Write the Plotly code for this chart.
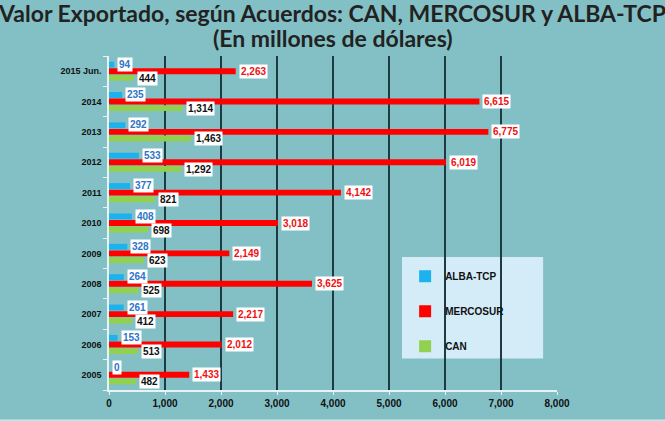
import plotly.graph_objects as go

# Valor exportado (millones de USD), de 2005 a 2015 Jun.
years = ["2005", "2006", "2007", "2008", "2009", "2010", "2011", "2012", "2013", "2014", "2015 Jun."]
alba = [0, 153, 261, 264, 328, 408, 377, 533, 292, 235, 94]
mercosur = [1433, 2012, 2217, 3625, 2149, 3018, 4142, 6019, 6775, 6615, 2263]
can = [482, 513, 412, 525, 623, 698, 821, 1292, 1463, 1314, 444]

x_ticks = [0, 1000, 2000, 3000, 4000, 5000, 6000, 7000, 8000]

BAR_FONT = dict(family="Liberation Sans, Arial", size=10, weight="bold")

fig = go.Figure()

# first trace ends up at the bottom of each group
series = [
    ("CAN", can, "#92d050", "#111111", -7, 3),
    ("MERCOSUR", mercosur, "#ff0000", "#ee1111", 0, 2),
    ("ALBA-TCP", alba, "#1cb2ee", "#2e74c8", 7, 1),
]

for name, vals, col, txtcol, shift, rank in series:
    fig.add_trace(go.Bar(
        y=years, x=vals, name=name, orientation="h",
        marker=dict(color=col, line=dict(width=0)),
        legendgroup=name, legendrank=rank,
    ))
    # labels: y given as category index, "2006" etc. would be read as numbers
    for i, v in enumerate(vals):
        fig.add_annotation(
            x=v, y=i, text=f"{v:,}", showarrow=False,
            xanchor="left", yanchor="middle", xshift=3, yshift=shift,
            bgcolor="white", borderpad=1,
            font=dict(BAR_FONT, color=txtcol),
        )

# second title line
fig.add_annotation(
    text="(En millones de dólares)", xref="paper", yref="paper",
    x=0.5, y=1.053, xanchor="center", yanchor="middle", showarrow=False,
    font=dict(family="Lato", size=23, weight="bold", color="#222222"),
)

# legend panel background
fig.add_shape(type="rect", xref="paper", yref="paper",
              x0=0.654, x1=0.969, y0=0.094, y1=0.398,
              fillcolor="#d4ecf8", line=dict(width=0), layer="below")

# light strip along the bottom edge
fig.add_shape(type="rect", xref="paper", yref="paper",
              x0=-0.3, x1=1.3, y0=-0.12, y1=-0.088,
              fillcolor="#c4e6ef", line=dict(width=0))

fig.update_layout(
    width=665, height=421,
    margin=dict(l=109, r=108, t=56, b=26),
    paper_bgcolor="#82c0c6",
    plot_bgcolor="rgba(0,0,0,0)",
    barmode="group", bargap=0.35, bargroupgap=0.1,
    title=dict(
        text="Valor Exportado, según Acuerdos: CAN, MERCOSUR y ALBA-TCP",
        x=0.5, xref="container", xanchor="center",
        y=0.968, yref="container", yanchor="middle",
        font=dict(family="Lato", size=23, weight="bold", color="#222222"),
    ),
    legend=dict(
        x=0.661, y=0.384, xanchor="left", yanchor="top",
        bgcolor="rgba(0,0,0,0)",
        traceorder="grouped", tracegroupgap=16,
        itemwidth=30,
        font=dict(family="Liberation Sans, Arial", size=10, weight="bold", color="#111111"),
    ),
    font=dict(family="Liberation Sans, Arial", color="#111111"),
)

fig.update_xaxes(
    range=[0, 8000], tickvals=x_ticks, tickformat=",",
    tickfont=dict(size=10, weight="bold", color="#111111"),
    showgrid=True, gridcolor="#1d3c42", gridwidth=1.5,
    zeroline=False,
    showline=True, linecolor="#e6f4f6", linewidth=1.5,
    ticks="outside", ticklen=3, tickcolor="#e6f4f6",
)
fig.update_yaxes(
    type="category", categoryorder="array", categoryarray=years,
    range=[-0.5, len(years) - 0.5],
    tickfont=dict(size=9, weight="bold", color="#111111"),
    showgrid=False,
    showline=True, linecolor="#e6f4f6", linewidth=1.5,
    ticks="outside", ticklen=4, tickcolor="#e6f4f6", tickson="boundaries",
    ticklabelstandoff=4,
)

# drop the browser's default page margin so the figure sits at the window corner
fig.write_html("out.html", config={"displayModeBar": False},
               post_script="document.body.style.margin = '0';")
